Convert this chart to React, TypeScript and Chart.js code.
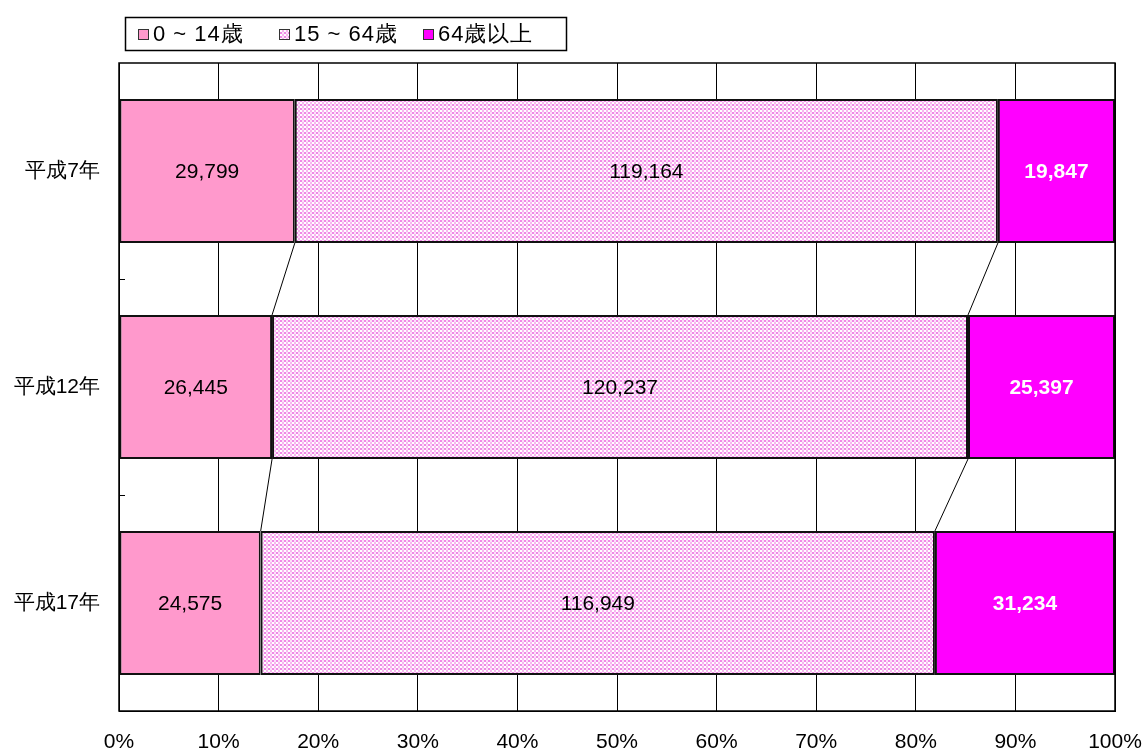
import React, { useEffect, useRef } from "react";
import { Chart, registerables } from "chart.js";

Chart.register(...registerables);

const categories = ["平成7年", "平成12年", "平成17年"];
const seriesLabels = ["0 ~ 14歳", "15 ~ 64歳", "64歳以上"];
const young = [29799, 26445, 24575];
const working = [119164, 120237, 116949];
const elderly = [19847, 25397, 31234];
const xTicks = ["0%", "10%", "20%", "30%", "40%", "50%", "60%", "70%", "80%", "90%", "100%"];

const FONT = "'Liberation Sans', Arial, sans-serif";

function makePattern(): CanvasPattern | string {
  const c = document.createElement("canvas");
  c.width = 4;
  c.height = 4;
  const g = c.getContext("2d");
  if (!g) return "#F7C0F0";
  g.fillStyle = "#FFFFFF";
  g.fillRect(0, 0, 4, 4);
  g.fillStyle = "#F088E6";
  g.fillRect(0, 0, 2, 2);
  g.fillStyle = "#F7B6EF";
  g.fillRect(2, 2, 2, 2);
  g.fillStyle = "#FCE0F9";
  g.fillRect(2, 0, 2, 2);
  const p = g.createPattern(c, "repeat");
  return p || "#F7C0F0";
}

export default function App() {
  const ref = useRef<HTMLCanvasElement | null>(null);

  useEffect(() => {
    if (!ref.current) return;
    const totals = categories.map((_, i) => young[i] + working[i] + elderly[i]);
    const pct = (arr: number[]) => arr.map((v, i) => (v / totals[i]) * 100);
    const raw = [young, working, elderly];
    const pattern = makePattern();
    const colors: any[] = ["#FF99CC", pattern, "#FF00FF"];

    const overlay = {
      id: "overlay",
      beforeDatasetsDraw(chart: any) {
        const ctx = chart.ctx;
        const a = chart.chartArea;
        const ys = chart.scales.y;
        ctx.save();
        ctx.strokeStyle = "#000";
        ctx.lineWidth = 1;
        for (let i = 1; i < categories.length; i++) {
          const y = Math.round((ys.getPixelForValue(i - 1) + ys.getPixelForValue(i)) / 2) + 0.5;
          ctx.beginPath();
          ctx.moveTo(a.left, y);
          ctx.lineTo(a.left + 6, y);
          ctx.stroke();
        }
        ctx.restore();
      },
      afterDatasetsDraw(chart: any) {
        const ctx = chart.ctx;
        const a = chart.chartArea;
        ctx.save();
        ctx.strokeStyle = "#000";
        ctx.lineWidth = 1;
        for (let d = 0; d < 2; d++) {
          const meta = chart.getDatasetMeta(d);
          for (let i = 0; i < categories.length - 1; i++) {
            const e1 = meta.data[i];
            const e2 = meta.data[i + 1];
            ctx.beginPath();
            ctx.moveTo(e1.x, e1.y + e1.height / 2);
            ctx.lineTo(e2.x, e2.y - e2.height / 2);
            ctx.stroke();
          }
        }
        ctx.textAlign = "center";
        ctx.textBaseline = "middle";
        for (let d = 0; d < 3; d++) {
          const meta = chart.getDatasetMeta(d);
          meta.data.forEach((el: any, i: number) => {
            const cx = (el.x + el.base) / 2;
            if (d === 2) {
              ctx.fillStyle = "#FFFFFF";
              ctx.font = `bold 21px ${FONT}`;
            } else {
              ctx.fillStyle = "#000000";
              ctx.font = `21px ${FONT}`;
            }
            ctx.fillText(raw[d][i].toLocaleString("en-US"), cx, el.y + 1);
          });
        }
        ctx.strokeStyle = "#000";
        ctx.lineWidth = 1.5;
        ctx.strokeRect(a.left, a.top, a.right - a.left, a.bottom - a.top);
        // legend
        const lx = 125.5, ly = 17.5, lw = 441, lh = 33;
        ctx.fillStyle = "#fff";
        ctx.fillRect(lx, ly, lw, lh);
        ctx.strokeStyle = "#000";
        ctx.lineWidth = 1.5;
        ctx.strokeRect(lx, ly, lw, lh);
        ctx.font = `22px ${FONT}`;
        ctx.textAlign = "left";
        ctx.textBaseline = "middle";
        const textStarts = [153, 294, 438];
        for (let d = 0; d < 3; d++) {
          const tx = textStarts[d];
          const mx = tx - 15;
          const cy = ly + lh / 2;
          ctx.fillStyle = colors[d];
          ctx.fillRect(mx, cy - 5, 11, 11);
          ctx.strokeStyle = "#333";
          ctx.lineWidth = 1;
          ctx.strokeRect(mx + 0.5, cy - 4.5, 10, 10);
          ctx.fillStyle = "#000";
          try {
            (ctx as any).letterSpacing = "1px";
          } catch (e) {}
          ctx.fillText(seriesLabels[d], tx, cy + 1);
          try {
            (ctx as any).letterSpacing = "0px";
          } catch (e) {}
        }
        ctx.restore();
      },
    };

    const chart = new Chart(ref.current, {
      type: "bar",
      data: {
        labels: categories,
        datasets: [
          { label: seriesLabels[0], data: pct(young), backgroundColor: colors[0] },
          { label: seriesLabels[1], data: pct(working), backgroundColor: colors[1] },
          { label: seriesLabels[2], data: pct(elderly), backgroundColor: colors[2] },
        ].map((ds) => ({
          ...ds,
          borderColor: "#111",
          borderWidth: 2,
          borderSkipped: false,
          categoryPercentage: 1,
          barPercentage: 0.667,
        })),
      },
      options: {
        indexAxis: "y",
        animation: false,
        responsive: false,
        maintainAspectRatio: false,
        layout: { padding: { left: 0, right: 31, top: 63, bottom: 0 } },
        plugins: {
          legend: { display: false },
          tooltip: { enabled: false },
        },
        scales: {
          x: {
            stacked: true,
            min: 0,
            max: 100,
            afterFit: (s: any) => {
              s.height = 43;
              s.paddingLeft = 0;
              s.paddingRight = 0;
            },
            ticks: {
              stepSize: 10,
              padding: 19,
              color: "#000",
              maxRotation: 0,
              autoSkip: false,
              font: { family: FONT, size: 21 },
              callback: (_v: any, i: number) => xTicks[i],
            },
            grid: { color: "#000", lineWidth: 1, drawTicks: false },
            border: { display: true, color: "#000", width: 1 },
          },
          y: {
            stacked: true,
            afterFit: (s: any) => {
              s.width = 119;
              s.paddingTop = 0;
              s.paddingBottom = 0;
            },
            ticks: {
              padding: 19,
              color: "#000",
              font: { family: FONT, size: 21 },
            },
            grid: { display: false, drawTicks: false },
            border: { display: true, color: "#000", width: 1 },
          },
        },
      },
      plugins: [overlay],
    } as any);

    return () => chart.destroy();
  }, []);

  return (
    <div style={{ position: "absolute", left: 0, top: 0, width: 1146, height: 754, background: "#fff" }}>
      <canvas ref={ref} width={1146} height={754} style={{ display: "block" }} />
    </div>
  );
}
